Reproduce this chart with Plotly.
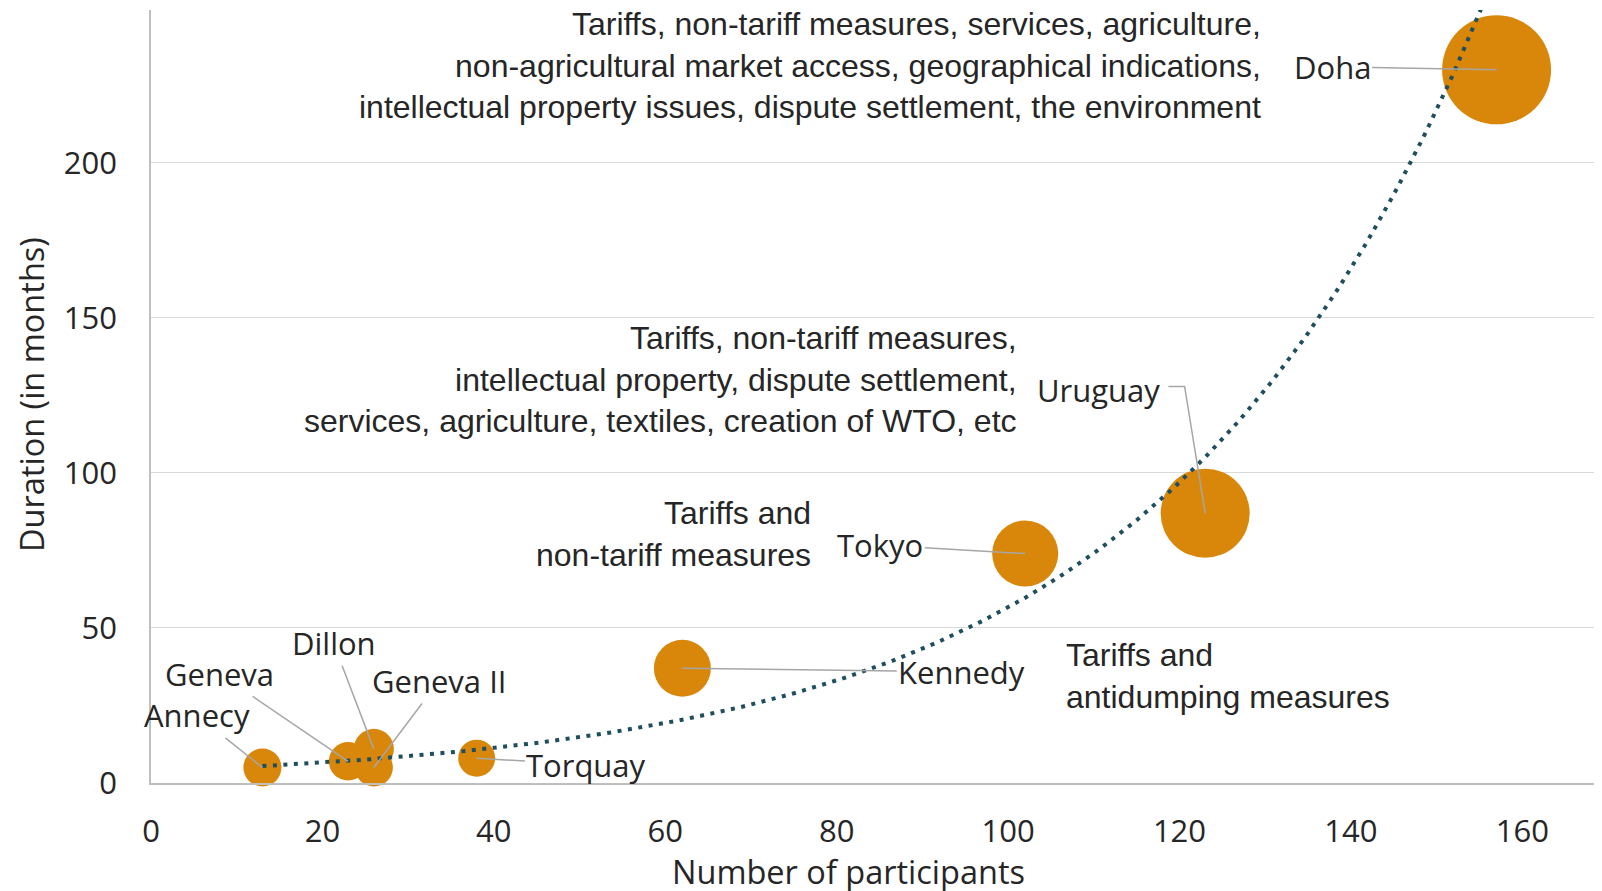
import numpy as np
import plotly.graph_objects as go

# GATT / WTO negotiating rounds
rounds = ["Geneva", "Annecy", "Torquay", "Geneva II", "Dillon", "Kennedy", "Tokyo", "Uruguay", "Doha"]
participants = [23, 13, 38, 26, 26, 62, 102, 123, 157]
duration = [7, 5, 8, 5, 11, 37, 74, 87, 230]
bubble_weight = [12.5, 12.2, 11.5, 12.2, 13.5, 27.3, 36.7, 66.7, 100]

x_ticks = [0, 20, 40, 60, 80, 100, 120, 140, 160]
y_ticks = [0, 50, 100, 150, 200]

# subjects covered, per round
subjects = {
    "Kennedy": ["Tariffs and", "antidumping measures"],
    "Tokyo": ["Tariffs and", "non-tariff measures"],
    "Uruguay": ["Tariffs, non-tariff measures,",
                "intellectual property, dispute settlement,",
                "services, agriculture, textiles, creation of WTO, etc"],
    "Doha": ["Tariffs, non-tariff measures, services, agriculture,",
             "non-agricultural market access, geographical indications,",
             "intellectual property issues, dispute settlement, the environment"],
}

# where the labels sit (data coordinates)
label_pos = {
    "Annecy": (5.4, 21.8), "Geneva": (8.0, 35.2), "Dillon": (21.3, 45.1),
    "Geneva II": (33.6, 32.9), "Torquay": (50.8, 5.9), "Kennedy": (94.6, 35.9),
    "Tokyo": (85.1, 76.7), "Uruguay": (110.5, 126.8), "Doha": (137.8, 231),
}
# leader lines with an elbow: start point and knee
elbow_leaders = {"Uruguay": [(118.7, 127.9), (120.6, 127.9)]}

subject_pos = {
    "Doha": (129.8, 231.3, "right"), "Uruguay": (101.3, 130.1, "right"),
    "Tokyo": (77.2, 80.2, "right"), "Kennedy": (106.5, 34.5, "left"),
}

bubble_color = "#D9870A"
trend_color = "#1F4E5F"
leader_color = "#A6A6A6"
text_color = "#262626"
label_font = "Open Sans"
desc_font = "Liberation Sans, Arial"

# exponential trendline, as Excel fits it
b, a = np.polyfit(participants, np.log(duration), 1)
xt = np.linspace(min(participants), max(participants), 300)
yt = np.exp(a + b * xt)

max_diam = 109
fig = go.Figure()
fig.add_trace(go.Scatter(
    x=participants, y=duration, mode="markers",
    marker=dict(size=bubble_weight, sizemode="area",
                sizeref=2.0 * max(bubble_weight) / max_diam ** 2,
                color=bubble_color, opacity=1, line=dict(width=0)),
    cliponaxis=False, hoverinfo="text", text=rounds,
))
fig.add_trace(go.Scatter(
    x=xt, y=yt, mode="lines",
    line=dict(color=trend_color, width=4, dash="4px,6.5px"),
    hoverinfo="skip",
))

annotations = []
shapes = []
for name, px, py in zip(rounds, participants, duration):
    tx, ty = label_pos[name]
    font = dict(family=label_font, size=31, color=text_color)
    if name in elbow_leaders:
        pts = elbow_leaders[name] + [(px, py)]
        path = "M " + " L ".join(f"{u},{v}" for u, v in pts)
        shapes.append(dict(type="path", path=path, xref="x", yref="y",
                           line=dict(color=leader_color, width=1.5)))
        annotations.append(dict(x=tx, y=ty, xref="x", yref="y", text=name,
                                showarrow=False, font=font))
    else:
        annotations.append(dict(
            x=px, y=py, ax=tx, ay=ty, axref="x", ayref="y", xref="x", yref="y",
            text=name, showarrow=True, arrowhead=0, arrowwidth=1.5,
            arrowcolor=leader_color, standoff=0, startstandoff=0, font=font,
        ))

for name, lines in subjects.items():
    sx, sy, side = subject_pos[name]
    annotations.append(dict(
        x=sx, y=sy, xref="x", yref="y", xanchor=side, yanchor="middle",
        text="<br>".join(lines), align=side, showarrow=False,
        font=dict(family=desc_font, size=32, color=text_color),
    ))

# the page body adds an 8px offset, so the figure is laid out 8px up-left
W, H = 1602, 891
off = 8
ml, mr, mt, mb = 151 - off, off, 10 - off, 108 + off


def px_to_paper(x, y):
    x, y = x - off, y - off
    return (x - ml) / (W - ml - mr), (H - mb - y) / (H - mt - mb)


tx, ty = px_to_paper(848, 871)
annotations.append(dict(
    x=tx, y=ty, xref="paper", yref="paper", xanchor="center", yanchor="middle",
    text="Number of participants", showarrow=False,
    font=dict(family=label_font, size=32.5, color=text_color),
))
tx, ty = px_to_paper(31, 395)
annotations.append(dict(
    x=tx, y=ty, xref="paper", yref="paper", xanchor="center", yanchor="middle",
    text="Duration (in months)", textangle=-90, showarrow=False,
    font=dict(family=label_font, size=32.5, color=text_color),
))

fig.update_layout(
    width=W, height=H,
    margin=dict(l=ml, r=mr, t=mt, b=mb, autoexpand=False),
    paper_bgcolor="white", plot_bgcolor="white",
    showlegend=False,
    annotations=annotations,
    shapes=shapes,
    xaxis=dict(
        range=[0, 169.3], tickvals=x_ticks, showgrid=False, zeroline=False,
        showline=True, linecolor="#BFBFBF", linewidth=1.5, ticks="",
        ticklabelstandoff=20, automargin=False,
        tickfont=dict(family=label_font, size=31, color=text_color),
    ),
    yaxis=dict(
        range=[0, 249.3], tickvals=y_ticks, showgrid=True, gridcolor="#D9D9D9",
        gridwidth=1.2, zeroline=False, showline=True, linecolor="#BFBFBF",
        linewidth=1.5, ticks="", ticklabelstandoff=26, automargin=False,
        tickfont=dict(family=label_font, size=31, color=text_color),
    ),
)

fig.write_html("out.html")
